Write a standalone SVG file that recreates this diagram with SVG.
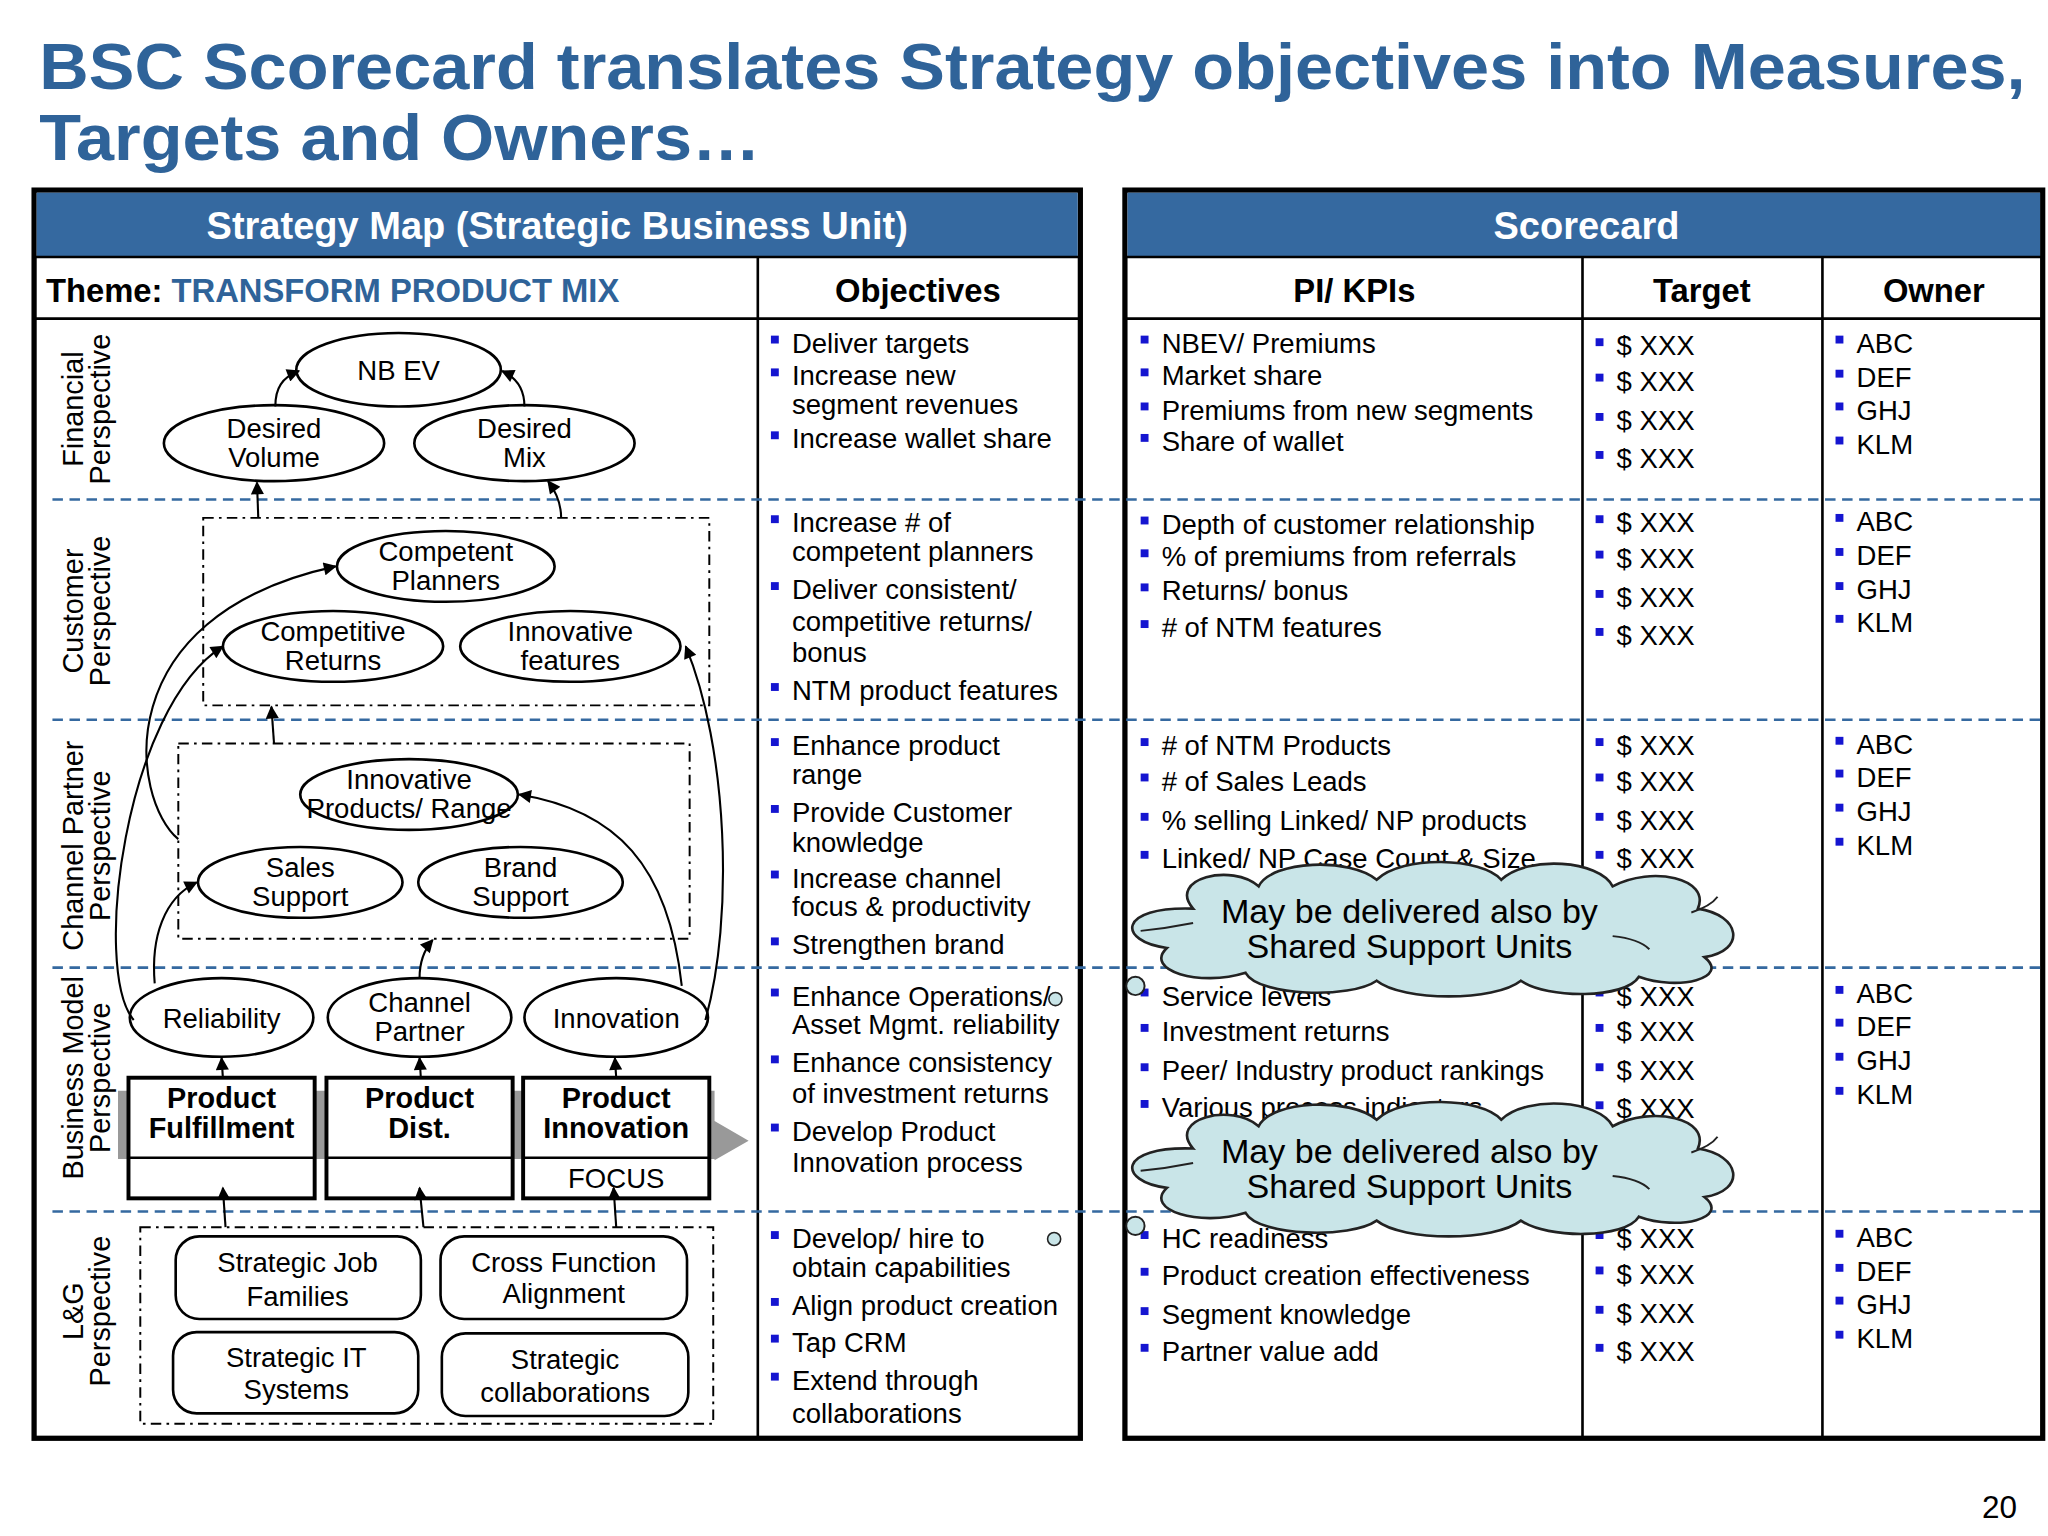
<svg xmlns="http://www.w3.org/2000/svg" width="2048" height="1536" viewBox="0 0 2048 1536">
<style>
text{font-family:"Liberation Sans",Arial,sans-serif;fill:#000}
.title{font-size:49px;font-weight:bold;fill:#2F6399}
.hdr{font-size:29px;font-weight:bold;fill:#fff}
.col{font-size:25px;font-weight:bold}
.persp{font-size:22px}
.el{fill:#fff;stroke:#000;stroke-width:2}
.nt{font-size:21px;text-anchor:middle}
.bt{font-size:22px;font-weight:bold;text-anchor:middle}
.box{fill:#fff;stroke:#000;stroke-width:3}
.dd{fill:none;stroke:#000;stroke-width:1.5;stroke-dasharray:8,4,2,4}
.sep{stroke:#3569A0;stroke-width:2;stroke-dasharray:8,5}
.ln{stroke:#000;stroke-width:2}
.b{font-size:21px}
.bul{fill:#1515D0}
.con{fill:none;stroke:#000;stroke-width:1.6;marker-end:url(#ah)}
.cloud{fill:#C9E5E8;stroke:#222;stroke-width:2}
.ct{font-size:26px;text-anchor:middle}
</style>
<defs>
<marker id="ah" viewBox="0 0 10 10" refX="9" refY="5" markerWidth="12" markerHeight="10" orient="auto" markerUnits="userSpaceOnUse"><path d="M0,0 L10,5 L0,10 Z" fill="#000"/></marker>
<path id="cl" d="M-180,-15 C-200,-38 -150,-50 -130,-32 C-120,-52 -60,-54 -40,-37 C-20,-56 40,-54 55,-37 C75,-56 130,-52 140,-32 C170,-48 215,-38 205,-15 C238,-10 242,17 210,22 C230,38 190,48 160,37 C150,54 90,54 70,40 C50,56 -20,56 -40,40 C-60,54 -130,52 -140,34 C-175,45 -218,32 -200,15 C-238,10 -238,-17 -180,-15 Z"/>
<rect id="sq" width="6" height="6" class="bul"/>
</defs>
<rect width="2048" height="1536" fill="#fff"/>
<g transform="scale(1.3111)">
<text class="title" x="30" y="68" textLength="1515" lengthAdjust="spacingAndGlyphs">BSC Scorecard translates Strategy objectives into Measures,</text>
<text class="title" x="30" y="122" textLength="550" lengthAdjust="spacingAndGlyphs">Targets and Owners…</text>

<g id="leftPanel">
<rect x="26" y="145" width="798" height="952" fill="#fff" stroke="#000" stroke-width="4"/>
<rect x="28" y="147" width="794" height="49" fill="#3569A0"/>
<line x1="26" y1="196" x2="824" y2="196" class="ln" stroke-width="3"/>
<text class="hdr" x="425" y="182" text-anchor="middle">Strategy Map (Strategic Business Unit)</text>
<text class="col" x="35" y="230">Theme: <tspan fill="#2F6399">TRANSFORM PRODUCT MIX</tspan></text>
<text class="col" x="700" y="230" text-anchor="middle">Objectives</text>
<line x1="26" y1="243" x2="824" y2="243" class="ln" stroke-width="3"/>
<line x1="578" y1="196" x2="578" y2="1097" class="ln" stroke-width="3"/>
</g>
<g id="rightPanel">
<rect x="858" y="145" width="700" height="952" fill="#fff" stroke="#000" stroke-width="4"/>
<rect x="860" y="147" width="696" height="49" fill="#3569A0"/>
<line x1="858" y1="196" x2="1558" y2="196" class="ln" stroke-width="3"/>
<text class="hdr" x="1210" y="182" text-anchor="middle">Scorecard</text>
<text class="col" x="1033" y="230" text-anchor="middle">PI/ KPIs</text>
<text class="col" x="1298" y="230" text-anchor="middle">Target</text>
<text class="col" x="1475" y="230" text-anchor="middle">Owner</text>
<line x1="858" y1="243" x2="1558" y2="243" class="ln" stroke-width="3"/>
<line x1="1207" y1="196" x2="1207" y2="1097" class="ln"/>
<line x1="1390" y1="196" x2="1390" y2="1097" class="ln"/>
</g>

<g id="separators">
<line x1="40" y1="381" x2="1558" y2="381" class="sep"/>
<line x1="40" y1="549" x2="1558" y2="549" class="sep"/>
<line x1="40" y1="738" x2="1558" y2="738" class="sep"/>
<line x1="40" y1="924" x2="1558" y2="924" class="sep"/>
</g>

<g id="perspectives">
<text transform="translate(63,312) rotate(-90)" text-anchor="middle" class="persp">Financial</text>
<text transform="translate(84,312) rotate(-90)" text-anchor="middle" class="persp">Perspective</text>
<text transform="translate(63,466) rotate(-90)" text-anchor="middle" class="persp">Customer</text>
<text transform="translate(84,466) rotate(-90)" text-anchor="middle" class="persp">Perspective</text>
<text transform="translate(63,645) rotate(-90)" text-anchor="middle" class="persp">Channel Partner</text>
<text transform="translate(84,645) rotate(-90)" text-anchor="middle" class="persp">Perspective</text>
<text transform="translate(63,822) rotate(-90)" text-anchor="middle" class="persp">Business Model</text>
<text transform="translate(84,822) rotate(-90)" text-anchor="middle" class="persp">Perspective</text>
<text transform="translate(63,1000) rotate(-90)" text-anchor="middle" class="persp">L&amp;G</text>
<text transform="translate(84,1000) rotate(-90)" text-anchor="middle" class="persp">Perspective</text>
</g>

<rect x="155" y="395" width="386" height="143" class="dd"/>
<rect x="136" y="567" width="390" height="149" class="dd"/>
<rect x="107" y="936" width="437" height="150" class="dd"/>

<path d="M90,832 H545 V855 L571,870 L545,885 V884 H90 Z" fill="#999"/>

<g id="nbev"><ellipse cx="304" cy="282" rx="78" ry="28" class="el"/><text class="nt" x="304" y="290">NB EV</text></g>
<g id="desiredVolume"><ellipse cx="209" cy="338" rx="84" ry="29" class="el"/><text class="nt" x="209" y="334">Desired</text><text class="nt" x="209" y="356">Volume</text></g>
<g id="desiredMix"><ellipse cx="400" cy="338" rx="84" ry="29" class="el"/><text class="nt" x="400" y="334">Desired</text><text class="nt" x="400" y="356">Mix</text></g>
<g id="competentPlanners"><ellipse cx="340" cy="432" rx="83" ry="27" class="el"/><text class="nt" x="340" y="428">Competent</text><text class="nt" x="340" y="450">Planners</text></g>
<g id="competitiveReturns"><ellipse cx="254" cy="493" rx="84" ry="27" class="el"/><text class="nt" x="254" y="489">Competitive</text><text class="nt" x="254" y="511">Returns</text></g>
<g id="innovativeFeatures"><ellipse cx="435" cy="493" rx="84" ry="27" class="el"/><text class="nt" x="435" y="489">Innovative</text><text class="nt" x="435" y="511">features</text></g>
<g id="innovativeProducts"><ellipse cx="312" cy="606" rx="83" ry="27" class="el"/><text class="nt" x="312" y="602">Innovative</text><text class="nt" x="312" y="624">Products/ Range</text></g>
<g id="salesSupport"><ellipse cx="229" cy="673" rx="78" ry="27" class="el"/><text class="nt" x="229" y="669">Sales</text><text class="nt" x="229" y="691">Support</text></g>
<g id="brandSupport"><ellipse cx="397" cy="673" rx="78" ry="27" class="el"/><text class="nt" x="397" y="669">Brand</text><text class="nt" x="397" y="691">Support</text></g>
<g id="reliability"><ellipse cx="169" cy="776" rx="70" ry="30" class="el"/><text class="nt" x="169" y="784">Reliability</text></g>
<g id="channelPartner"><ellipse cx="320" cy="776" rx="70" ry="30" class="el"/><text class="nt" x="320" y="772">Channel</text><text class="nt" x="320" y="794">Partner</text></g>
<g id="innovation"><ellipse cx="470" cy="776" rx="70" ry="30" class="el"/><text class="nt" x="470" y="784">Innovation</text></g>

<g id="productFulfillment"><rect x="98" y="822" width="142" height="92" class="box"/><line x1="98" y1="883" x2="240" y2="883" class="ln" stroke-width="3"/><text class="bt" x="169" y="845">Product</text><text class="bt" x="169" y="868">Fulfillment</text></g>
<g id="productDist"><rect x="249" y="822" width="142" height="92" class="box"/><line x1="249" y1="883" x2="391" y2="883" class="ln" stroke-width="3"/><text class="bt" x="320" y="845">Product</text><text class="bt" x="320" y="868">Dist.</text></g>
<g id="productInnovation"><rect x="399" y="822" width="142" height="92" class="box"/><line x1="399" y1="883" x2="541" y2="883" class="ln" stroke-width="3"/><text class="bt" x="470" y="845">Product</text><text class="bt" x="470" y="868">Innovation</text><text class="nt" x="470" y="906" font-size="19">FOCUS</text></g>

<g id="strategicJob"><rect x="134" y="943" width="187" height="63" rx="18" class="el"/><text class="nt" x="227" y="970">Strategic Job</text><text class="nt" x="227" y="996">Families</text></g>
<g id="crossFunction"><rect x="336" y="943" width="188" height="63" rx="18" class="el"/><text class="nt" x="430" y="970">Cross Function</text><text class="nt" x="430" y="994">Alignment</text></g>
<g id="strategicIT"><rect x="132" y="1016" width="187" height="62" rx="18" class="el"/><text class="nt" x="226" y="1043">Strategic IT</text><text class="nt" x="226" y="1067">Systems</text></g>
<g id="strategicCollab"><rect x="337" y="1017" width="188" height="63" rx="18" class="el"/><text class="nt" x="431" y="1044">Strategic</text><text class="nt" x="431" y="1069">collaborations</text></g>

<g id="connectors">
<path class="con" d="M210,310 C210,296 215,288 228,283"/>
<path class="con" d="M400,310 C400,296 394,288 383,283"/>
<path class="con" d="M197,395 L196,368"/>
<path class="con" d="M428,395 C428,383 424,375 418,367"/>
<path class="con" d="M209,567 L207,539"/>
<path class="con" d="M320,746 C320,735 323,725 330,717"/>
<path class="con" d="M136,640 C100,610 80,470 256,432"/>
<path class="con" d="M102,778 C70,740 95,540 170,493"/>
<path class="con" d="M118,750 C115,715 125,685 150,673"/>
<path class="con" d="M520,752 C510,660 470,618 396,606"/>
<path class="con" d="M538,778 C560,700 555,570 523,493"/>
<path class="con" d="M170,822 L169,807"/>
<path class="con" d="M321,822 L320,807"/>
<path class="con" d="M470,822 L469,807"/>
<path class="con" d="M172,936 L170,906"/>
<path class="con" d="M323,936 L320,906"/>
<path class="con" d="M470,936 L468,906"/>
</g>

<g id="objectives">
<use href="#sq" x="588" y="256"/><text class="b" x="604" y="269">Deliver targets</text>
<use href="#sq" x="588" y="281"/><text class="b" x="604" y="294">Increase new</text><text class="b" x="604" y="316">segment revenues</text>
<use href="#sq" x="588" y="329"/><text class="b" x="604" y="342">Increase wallet share</text>
<use href="#sq" x="588" y="393"/><text class="b" x="604" y="406">Increase # of</text><text class="b" x="604" y="428">competent planners</text>
<use href="#sq" x="588" y="444"/><text class="b" x="604" y="457">Deliver consistent/</text><text class="b" x="604" y="481">competitive returns/</text><text class="b" x="604" y="505">bonus</text>
<use href="#sq" x="588" y="521"/><text class="b" x="604" y="534">NTM product features</text>
<use href="#sq" x="588" y="563"/><text class="b" x="604" y="576">Enhance product</text><text class="b" x="604" y="598">range</text>
<use href="#sq" x="588" y="614"/><text class="b" x="604" y="627">Provide Customer</text><text class="b" x="604" y="650">knowledge</text>
<use href="#sq" x="588" y="664"/><text class="b" x="604" y="677">Increase channel</text><text class="b" x="604" y="699">focus &amp; productivity</text>
<use href="#sq" x="588" y="715"/><text class="b" x="604" y="728">Strengthen brand</text>
<use href="#sq" x="588" y="754"/><text class="b" x="604" y="767">Enhance Operations/</text><text class="b" x="604" y="789">Asset Mgmt. reliability</text>
<use href="#sq" x="588" y="805"/><text class="b" x="604" y="818">Enhance consistency</text><text class="b" x="604" y="841">of investment returns</text>
<use href="#sq" x="588" y="857"/><text class="b" x="604" y="870">Develop Product</text><text class="b" x="604" y="894">Innovation process</text>
<use href="#sq" x="588" y="939"/><text class="b" x="604" y="952">Develop/ hire to</text><text class="b" x="604" y="974">obtain capabilities</text>
<use href="#sq" x="588" y="990"/><text class="b" x="604" y="1003">Align product creation</text>
<use href="#sq" x="588" y="1018"/><text class="b" x="604" y="1031">Tap CRM</text>
<use href="#sq" x="588" y="1047"/><text class="b" x="604" y="1060">Extend through</text><text class="b" x="604" y="1085">collaborations</text>
<circle cx="804" cy="945" r="5" fill="#C9E5E8" stroke="#222" stroke-width="1.2"/>
<circle cx="805" cy="762" r="5" fill="#C9E5E8" stroke="#222" stroke-width="1.2"/>
</g>

<g id="kpis">
<use href="#sq" x="870" y="256"/><text class="b" x="886" y="269">NBEV/ Premiums</text>
<use href="#sq" x="870" y="281"/><text class="b" x="886" y="294">Market share</text>
<use href="#sq" x="870" y="307"/><text class="b" x="886" y="320">Premiums from new segments</text>
<use href="#sq" x="870" y="331"/><text class="b" x="886" y="344">Share of wallet</text>
<use href="#sq" x="870" y="394"/><text class="b" x="886" y="407">Depth of customer relationship</text>
<use href="#sq" x="870" y="419"/><text class="b" x="886" y="432">% of premiums from referrals</text>
<use href="#sq" x="870" y="445"/><text class="b" x="886" y="458">Returns/ bonus</text>
<use href="#sq" x="870" y="473"/><text class="b" x="886" y="486"># of NTM features</text>
<use href="#sq" x="870" y="563"/><text class="b" x="886" y="576"># of NTM Products</text>
<use href="#sq" x="870" y="590"/><text class="b" x="886" y="603"># of Sales Leads</text>
<use href="#sq" x="870" y="620"/><text class="b" x="886" y="633">% selling Linked/ NP products</text>
<use href="#sq" x="870" y="649"/><text class="b" x="886" y="662">Linked/ NP Case Count &amp; Size</text>
<use href="#sq" x="870" y="754"/><text class="b" x="886" y="767">Service levels</text>
<use href="#sq" x="870" y="781"/><text class="b" x="886" y="794">Investment returns</text>
<use href="#sq" x="870" y="811"/><text class="b" x="886" y="824">Peer/ Industry product rankings</text>
<use href="#sq" x="870" y="839"/><text class="b" x="886" y="852">Various process indicators</text>
<use href="#sq" x="870" y="939"/><text class="b" x="886" y="952">HC readiness</text>
<use href="#sq" x="870" y="967"/><text class="b" x="886" y="980">Product creation effectiveness</text>
<use href="#sq" x="870" y="997"/><text class="b" x="886" y="1010">Segment knowledge</text>
<use href="#sq" x="870" y="1025"/><text class="b" x="886" y="1038">Partner value add</text>
</g>

<g id="targets">
<use href="#sq" x="1217" y="258"/><text class="b" x="1233" y="271">$ XXX</text>
<use href="#sq" x="1217" y="285"/><text class="b" x="1233" y="298">$ XXX</text>
<use href="#sq" x="1217" y="315"/><text class="b" x="1233" y="328">$ XXX</text>
<use href="#sq" x="1217" y="344"/><text class="b" x="1233" y="357">$ XXX</text>
<use href="#sq" x="1217" y="393"/><text class="b" x="1233" y="406">$ XXX</text>
<use href="#sq" x="1217" y="420"/><text class="b" x="1233" y="433">$ XXX</text>
<use href="#sq" x="1217" y="450"/><text class="b" x="1233" y="463">$ XXX</text>
<use href="#sq" x="1217" y="479"/><text class="b" x="1233" y="492">$ XXX</text>
<use href="#sq" x="1217" y="563"/><text class="b" x="1233" y="576">$ XXX</text>
<use href="#sq" x="1217" y="590"/><text class="b" x="1233" y="603">$ XXX</text>
<use href="#sq" x="1217" y="620"/><text class="b" x="1233" y="633">$ XXX</text>
<use href="#sq" x="1217" y="649"/><text class="b" x="1233" y="662">$ XXX</text>
<use href="#sq" x="1217" y="754"/><text class="b" x="1233" y="767">$ XXX</text>
<use href="#sq" x="1217" y="781"/><text class="b" x="1233" y="794">$ XXX</text>
<use href="#sq" x="1217" y="811"/><text class="b" x="1233" y="824">$ XXX</text>
<use href="#sq" x="1217" y="840"/><text class="b" x="1233" y="853">$ XXX</text>
<use href="#sq" x="1217" y="939"/><text class="b" x="1233" y="952">$ XXX</text>
<use href="#sq" x="1217" y="966"/><text class="b" x="1233" y="979">$ XXX</text>
<use href="#sq" x="1217" y="996"/><text class="b" x="1233" y="1009">$ XXX</text>
<use href="#sq" x="1217" y="1025"/><text class="b" x="1233" y="1038">$ XXX</text>
</g>

<g id="owners">
<use href="#sq" x="1400" y="256"/><text class="b" x="1416" y="269">ABC</text>
<use href="#sq" x="1400" y="282"/><text class="b" x="1416" y="295">DEF</text>
<use href="#sq" x="1400" y="307"/><text class="b" x="1416" y="320">GHJ</text>
<use href="#sq" x="1400" y="333"/><text class="b" x="1416" y="346">KLM</text>
<use href="#sq" x="1400" y="392"/><text class="b" x="1416" y="405">ABC</text>
<use href="#sq" x="1400" y="418"/><text class="b" x="1416" y="431">DEF</text>
<use href="#sq" x="1400" y="444"/><text class="b" x="1416" y="457">GHJ</text>
<use href="#sq" x="1400" y="469"/><text class="b" x="1416" y="482">KLM</text>
<use href="#sq" x="1400" y="562"/><text class="b" x="1416" y="575">ABC</text>
<use href="#sq" x="1400" y="587"/><text class="b" x="1416" y="600">DEF</text>
<use href="#sq" x="1400" y="613"/><text class="b" x="1416" y="626">GHJ</text>
<use href="#sq" x="1400" y="639"/><text class="b" x="1416" y="652">KLM</text>
<use href="#sq" x="1400" y="752"/><text class="b" x="1416" y="765">ABC</text>
<use href="#sq" x="1400" y="777"/><text class="b" x="1416" y="790">DEF</text>
<use href="#sq" x="1400" y="803"/><text class="b" x="1416" y="816">GHJ</text>
<use href="#sq" x="1400" y="829"/><text class="b" x="1416" y="842">KLM</text>
<use href="#sq" x="1400" y="938"/><text class="b" x="1416" y="951">ABC</text>
<use href="#sq" x="1400" y="964"/><text class="b" x="1416" y="977">DEF</text>
<use href="#sq" x="1400" y="989"/><text class="b" x="1416" y="1002">GHJ</text>
<use href="#sq" x="1400" y="1015"/><text class="b" x="1416" y="1028">KLM</text>
</g>

<g id="cloud1">
<use href="#cl" class="cloud" transform="translate(1090,708)"/>
<path d="M870,710 Q890,708 910,704 M1230,714 Q1250,716 1258,724 M1290,696 Q1305,691 1310,684" fill="none" stroke="#222" stroke-width="1.5"/>
<circle cx="866" cy="752" r="7" fill="#C9E5E8" stroke="#222" stroke-width="1.5"/>
<text class="ct" x="1075" y="704">May be delivered also by</text>
<text class="ct" x="1075" y="731">Shared Support Units</text>
</g>
<g id="cloud2">
<use href="#cl" class="cloud" transform="translate(1090,891)"/>
<path d="M870,893 Q890,891 910,887 M1230,897 Q1250,899 1258,907 M1290,879 Q1305,874 1310,867" fill="none" stroke="#222" stroke-width="1.5"/>
<circle cx="866" cy="935" r="7" fill="#C9E5E8" stroke="#222" stroke-width="1.5"/>
<text class="ct" x="1075" y="887">May be delivered also by</text>
<text class="ct" x="1075" y="914">Shared Support Units</text>
</g>

<text x="1525" y="1158" font-size="24" text-anchor="middle">20</text>
</g>
</svg>
